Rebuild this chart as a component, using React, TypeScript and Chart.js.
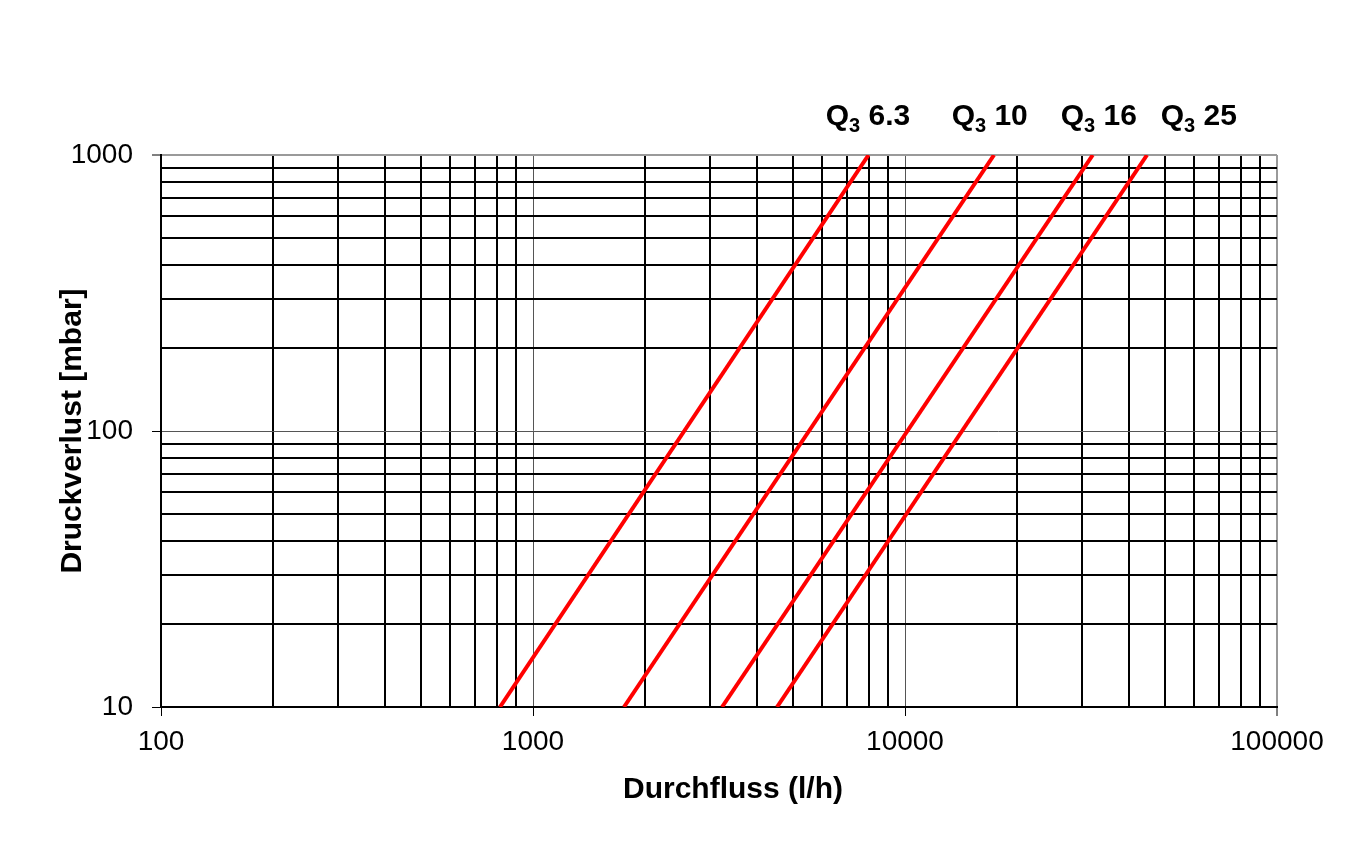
import React, { useEffect, useRef } from "react";
import { Chart, registerables } from "chart.js";

Chart.register(...registerables);

// Axis decades (labelled ticks) and minor multipliers
const xDecades = [100, 1000, 10000, 100000];
const yDecades = [10, 100, 1000];
const minorSteps = [1, 2, 3, 4, 5, 6, 7, 8, 9];

// Series: flow (l/h) at pressure loss 10 and 1000 mbar
const pressure = [10, 1000];
const flowQ63 = [815, 7980];
const flowQ10 = [1756, 17350];
const flowQ16 = [3222, 31970];
const flowQ25 = [4528, 44730];

// Top labels
const labelNumbers = ["6.3", "10", "16", "25"];
const labelFlowPos = [6160, 13430, 26390, 48980];

const xTitle = "Durchfluss (l/h)";
const yTitle = "Druckverlust [mbar]";

const FONT = "'Liberation Sans', Arial, Helvetica, sans-serif";

function buildTicks(decades: number[]): number[] {
  const out: number[] = [];
  for (let i = 0; i < decades.length - 1; i++) {
    for (const m of minorSteps) out.push(decades[i] * m);
  }
  out.push(decades[decades.length - 1]);
  return out;
}
const xTicks = buildTicks(xDecades);
const yTicks = buildTicks(yDecades);

const isMajor = (v: number, decades: number[]) => decades.includes(v);

function gridOpts(decades: number[], maxVal: number) {
  return {
    display: true,
    drawOnChartArea: true,
    drawTicks: true,
    tickLength: 9,
    color: (ctx: any) => {
      const v = ctx.tick ? ctx.tick.value : 0;
      if (v === maxVal) return "#9a9a9a";
      return isMajor(v, decades) ? "#555555" : "#000000";
    },
    lineWidth: (ctx: any) => {
      const v = ctx.tick ? ctx.tick.value : 0;
      if (v === maxVal) return 2;
      return isMajor(v, decades) ? 1 : 2;
    },
    tickColor: (ctx: any) => {
      const v = ctx.tick ? ctx.tick.value : 0;
      return isMajor(v, decades) ? "#000000" : "rgba(0,0,0,0)";
    },
    tickWidth: 1,
  };
}

const mkSeries = (flows: number[]) =>
  flows.map((f, i) => ({ x: f, y: pressure[i] }));

const labelPlugin = {
  id: "customText",
  afterDraw(chart: any) {
    const { ctx, chartArea, scales } = chart;
    ctx.save();
    ctx.fillStyle = "#000";
    // X title
    ctx.font = `bold 30px ${FONT}`;
    ctx.textAlign = "center";
    ctx.textBaseline = "alphabetic";
    ctx.fillText(xTitle, 733, 798);
    // Y title
    ctx.save();
    ctx.translate(81, 431);
    ctx.rotate(-Math.PI / 2);
    ctx.fillText(yTitle, 0, 0);
    ctx.restore();
    // Q labels
    ctx.textAlign = "left";
    const baseY = chartArea.top - 30;
    labelNumbers.forEach((num, i) => {
      let x = scales.x.getPixelForValue(labelFlowPos[i]) - 1;
      ctx.font = `bold 30px ${FONT}`;
      ctx.fillText("Q", x, baseY);
      x += ctx.measureText("Q").width;
      ctx.font = `bold 20px ${FONT}`;
      ctx.fillText("3", x, baseY + 6.5);
      x += ctx.measureText("3").width;
      ctx.font = `bold 30px ${FONT}`;
      ctx.fillText(" " + num, x, baseY);
    });
    ctx.restore();
  },
};

export default function App() {
  const canvasRef = useRef<HTMLCanvasElement | null>(null);

  useEffect(() => {
    if (!canvasRef.current) return;
    const red = "#ff0000";
    const ds = (label: string, flows: number[]) => ({
      label,
      data: mkSeries(flows),
      borderColor: red,
      backgroundColor: red,
      borderWidth: 4,
      pointRadius: 0,
      tension: 0,
      fill: false,
    });
    const chart = new Chart(canvasRef.current, {
      type: "line",
      data: {
        datasets: [
          ds("Q3 6.3", flowQ63),
          ds("Q3 10", flowQ10),
          ds("Q3 16", flowQ16),
          ds("Q3 25", flowQ25),
        ],
      },
      options: {
        animation: false,
        responsive: true,
        maintainAspectRatio: false,
        layout: { padding: { top: 155, right: 83, bottom: 0, left: 0 } },
        plugins: {
          legend: { display: false },
          tooltip: { enabled: false },
        },
        scales: {
          x: {
            type: "logarithmic",
            position: "bottom",
            min: 100,
            max: 100000,
            afterBuildTicks: (scale: any) => {
              scale.ticks = xTicks.map((v) => ({ value: v, major: isMajor(v, xDecades) }));
            },
            afterFit: (scale: any) => {
              scale.height = 140;
            },
            ticks: {
              autoSkip: false,
              maxRotation: 0,
              minRotation: 0,
              padding: 9,
              color: "#000",
              font: { family: FONT, size: 28 },
              callback: (v: any) => (isMajor(Number(v), xDecades) ? String(v) : ""),
            },
            grid: gridOpts(xDecades, 100000) as any,
            border: { display: true, color: "#000", width: 2 },
          },
          y: {
            type: "logarithmic",
            position: "left",
            min: 10,
            max: 1000,
            afterBuildTicks: (scale: any) => {
              scale.ticks = yTicks.map((v) => ({ value: v, major: isMajor(v, yDecades) }));
            },
            afterFit: (scale: any) => {
              scale.width = 161;
            },
            ticks: {
              autoSkip: false,
              padding: 19,
              color: "#000",
              font: { family: FONT, size: 28 },
              callback: (v: any) => (isMajor(Number(v), yDecades) ? String(v) : ""),
            },
            grid: gridOpts(yDecades, 1000) as any,
            border: { display: true, color: "#000", width: 2 },
          },
        },
      } as any,
      plugins: [labelPlugin],
    });
    return () => chart.destroy();
  }, []);

  return (
    <div
      style={{
        position: "absolute",
        left: 0,
        top: 0,
        width: 1360,
        height: 847,
        background: "#fff",
      }}
    >
      <canvas ref={canvasRef} />
    </div>
  );
}
